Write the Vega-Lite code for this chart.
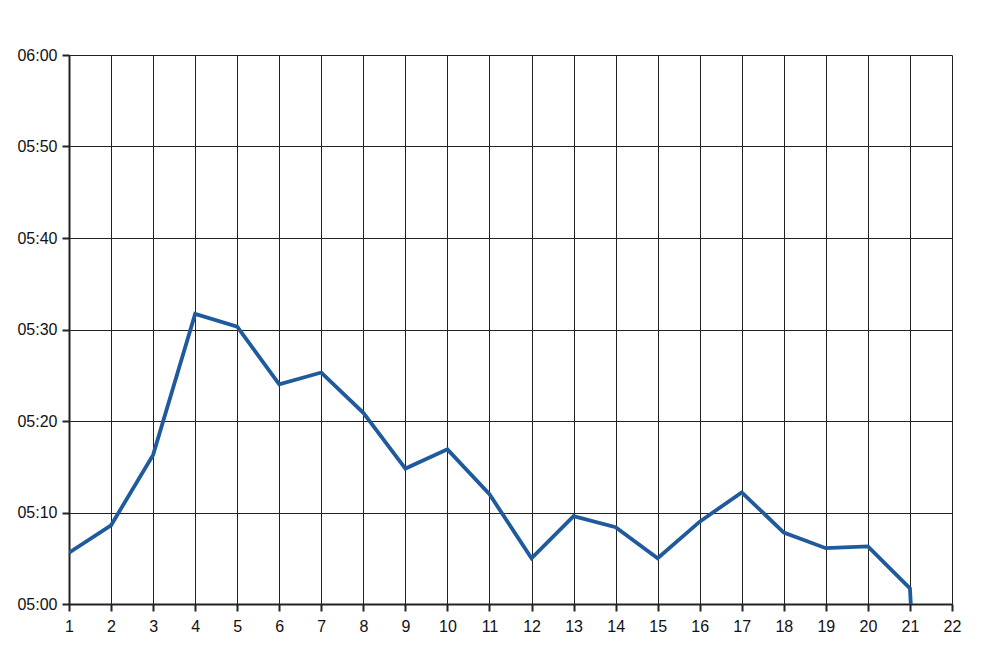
{
  "$schema": "https://vega.github.io/schema/vega-lite/v6.json",
  "width": 883,
  "height": 549,
  "autosize": {"type": "none"},
  "padding": {"left": 69, "top": 55, "right": 48, "bottom": 48},
  "background": "white",
  "config": {
    "view": {"stroke": null},
    "axis": {
      "labelFont": "Liberation Sans",
      "labelFontSize": 16,
      "labelColor": "#111111",
      "gridColor": "#222222",
      "gridOpacity": 1,
      "gridWidth": 1,
      "domainColor": "#222222",
      "domainWidth": 2,
      "tickColor": "#222222",
      "tickWidth": 2,
      "tickSize": 7,
      "title": null
    }
  },
  "data": {
    "values": [
      {"lap": 1, "sec": 305.6},
      {"lap": 2, "sec": 308.6},
      {"lap": 3, "sec": 316.3},
      {"lap": 4, "sec": 331.7},
      {"lap": 5, "sec": 330.3},
      {"lap": 6, "sec": 324.0},
      {"lap": 7, "sec": 325.3},
      {"lap": 8, "sec": 320.9},
      {"lap": 9, "sec": 314.8},
      {"lap": 10, "sec": 316.9},
      {"lap": 11, "sec": 312.0},
      {"lap": 12, "sec": 305.0},
      {"lap": 13, "sec": 309.6},
      {"lap": 14, "sec": 308.4},
      {"lap": 15, "sec": 305.0},
      {"lap": 16, "sec": 309.0},
      {"lap": 17, "sec": 312.2},
      {"lap": 18, "sec": 307.8},
      {"lap": 19, "sec": 306.1},
      {"lap": 20, "sec": 306.3},
      {"lap": 21, "sec": 301.7},
      {"lap": 21.02, "sec": 300.0}
    ]
  },
  "mark": {"type": "line", "color": "#1f5a9c", "strokeWidth": 3.8, "clip": true, "strokeJoin": "miter"},
  "encoding": {
    "x": {
      "field": "lap",
      "type": "quantitative",
      "scale": {"domain": [1, 22], "nice": false, "zero": false},
      "axis": {"values": [1,2,3,4,5,6,7,8,9,10,11,12,13,14,15,16,17,18,19,20,21,22], "labelPadding": 7, "labelFlush": false}
    },
    "y": {
      "field": "sec",
      "type": "quantitative",
      "scale": {"domain": [300, 360], "nice": false, "zero": false},
      "axis": {
        "values": [300, 310, 320, 330, 340, 350, 360],
        "labelExpr": "'0' + floor(datum.value / 60) + ':' + (datum.value % 60 < 10 ? '0' : '') + (datum.value % 60)",
        "labelPadding": 5
      }
    }
  }
}
